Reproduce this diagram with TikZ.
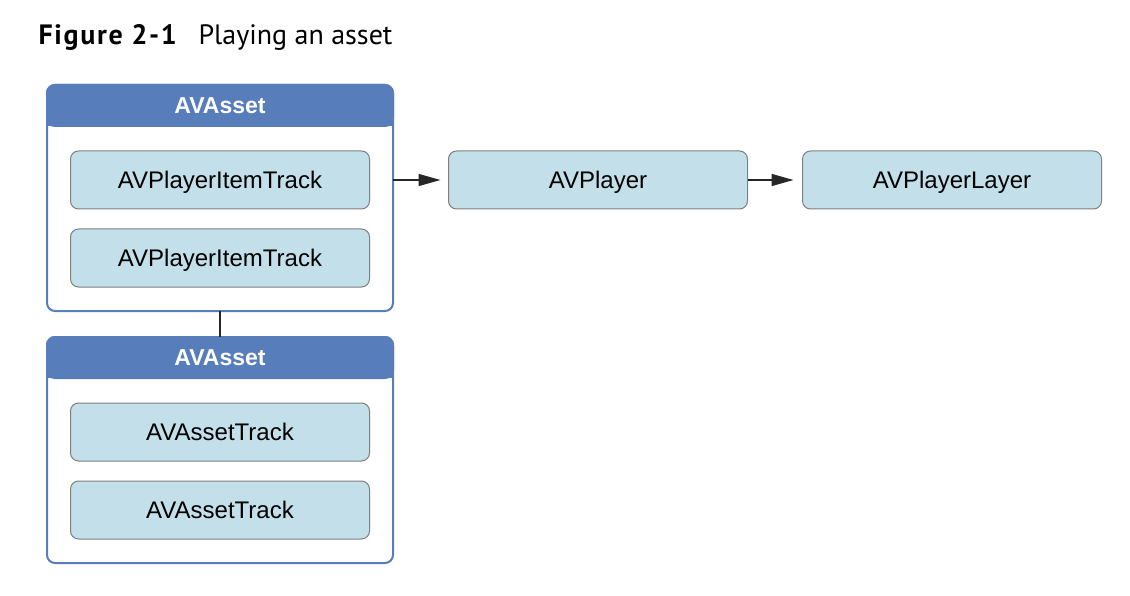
\documentclass[tikz,border=0pt]{standalone}
\usepackage{fontspec}
\setmainfont{Liberation Sans}
\newfontfamily\titlefont{PT Sans}
\newfontfamily\titlebold[LetterSpace=6]{PT Sans Bold}
\usepackage{tikz}
\usetikzlibrary{arrows.meta}
\definecolor{hdrblue}{HTML}{587DBB}
\definecolor{trackfill}{HTML}{C2DFEA}
\definecolor{trackline}{HTML}{7F7F7F}

\begin{document}
\begin{tikzpicture}[x=1pt,y=-1pt,
	asset/.style={draw=hdrblue,line width=2pt,rounded corners=8pt,fill=white,minimum width=346pt,minimum height=226pt,inner sep=0pt,outer sep=0pt},
	head/.style={draw=hdrblue,fill=hdrblue,line width=2pt,rounded corners=8pt,minimum width=346pt,minimum height=41pt,inner sep=0pt,outer sep=0pt},
	headtext/.style={text=white,text height=16.5pt,text depth=0pt,inner sep=0pt,font=\fontsize{23}{23}\selectfont\bfseries},
	track/.style={draw=trackline,fill=trackfill,line width=1pt,rounded corners=8pt,minimum width=299pt,minimum height=58pt,inner sep=0pt,outer sep=0pt,text height=17.2pt,text depth=0pt,font=\fontsize{24}{24}\selectfont},
	link/.style={line width=1.5pt,draw=black!85,-{Triangle[length=22pt,width=12pt]}}]
\useasboundingbox (0,0) rectangle (1130,596);

\node[anchor=base west,font=\titlebold\fontsize{28}{28}\selectfont] (fig) at (35,45) {Figure 2-1};
\node[anchor=base west,font=\titlefont\fontsize{28}{28}\selectfont] (caption) at (195,45) {Playing an asset};

% upper asset
\node[asset] (top) at (220,198) {};
\node[head,anchor=north] (h1) at (top.north) {};
\fill[hdrblue] (h1.west) rectangle (h1.south east);
\node[headtext] (lbl1) at (h1) {AVAsset};
\node[track] (t1) at (220,180) {AVPlayerItemTrack};
\node[track] (t2) at (220,258) {AVPlayerItemTrack};

% lower asset
\node[asset] (bot) at (220,450) {};
\node[head,anchor=north] (h2) at (bot.north) {};
\fill[hdrblue] (h2.west) rectangle (h2.south east);
\node[headtext] (lbl2) at (h2) {AVAsset};
\node[track] (a1) at (220,432) {AVAssetTrack};
\node[track] (a2) at (220,510) {AVAssetTrack};

\node[track] (player) at (598,180) {AVPlayer};
\node[track] (layer) at (952,180) {AVPlayerLayer};

\draw[line width=1.5pt,black!85] (top) -- (bot);
\draw[link,shorten >=8pt] (top.east|-t1) -- (player);
\draw[link,shorten >=9pt] (player) -- (layer);
\end{tikzpicture}
\end{document}
